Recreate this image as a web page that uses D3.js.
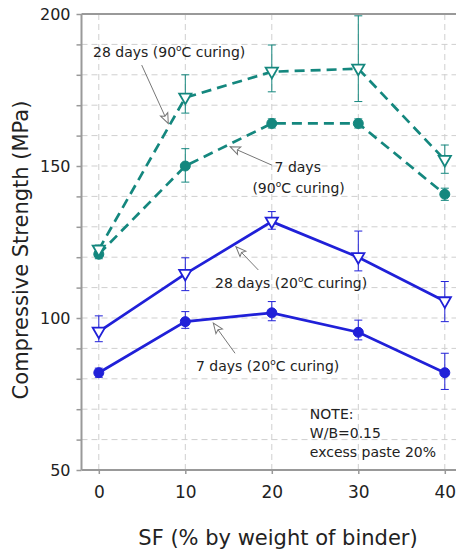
<!DOCTYPE html>
<html>
<head>
<meta charset="utf-8">
<script src="https://cdn.jsdelivr.net/npm/d3@7"></script>
<style>
  html, body { margin: 0; padding: 0; background: #fff; }
  svg { display: block; font-family: "DejaVu Sans", sans-serif; }
</style>
</head>
<body>
<div id="chart"></div>
<script>
// ---- data ----
const sf = [0, 10, 20, 30, 40];
const d28_90 = [122.5, 172.5, 181, 182, 152];
const d28_90_up = [1.5, 7.5, 8.8, 17.4, 4.9];
const d28_90_dn = [1.5, 5.1, 6.6, 10.8, 4.4];
const d7_90 = [121, 150, 164, 164, 140.7];
const d7_90_up = [1.5, 5.7, 1.5, 1.5, 2];
const d7_90_dn = [1.5, 5.3, 1.5, 1.5, 2];
const d28_20 = [95.5, 114.5, 131.7, 120, 105.5];
const d28_20_up = [5.2, 5.3, 3.3, 8.6, 6.5];
const d28_20_dn = [3.3, 5.5, 2.5, 4.5, 6.7];
const d7_20 = [82, 98.8, 101.7, 95.3, 82];
const d7_20_up = [1.5, 3.3, 3.7, 4, 6.4];
const d7_20_dn = [1.5, 2.2, 2.6, 2.5, 5.5];
const yTickLabels = [50, 100, 150, 200];
const yMinorTicks = d3.range(50, 201, 10);
const xTicks = [0, 10, 20, 30, 40];

const W = 456, H = 555;
const svg = d3.select("#chart").append("svg").attr("width", W).attr("height", H);

const x = d3.scaleLinear().domain([-2, 42]).range([81.5, 462.1]);
const y = d3.scaleLinear().domain([50, 200]).range([470, 14]);

const teal = "#14877e";
const blue = "#2020d8";

// grid
const grid = svg.append("g");
grid.selectAll("line.h").data(yMinorTicks.filter(v => v > 50 && v < 200)).join("line")
  .attr("x1", x(-2)).attr("x2", x(42)).attr("y1", d => y(d)).attr("y2", d => y(d))
  .attr("stroke", "#cfcfcf").attr("stroke-width", 1).attr("stroke-dasharray", "6,4");
grid.selectAll("line.v").data(xTicks).join("line")
  .attr("x1", d => x(d)).attr("x2", d => x(d)).attr("y1", y(50)).attr("y2", y(200))
  .attr("stroke", "#cfcfcf").attr("stroke-width", 1).attr("stroke-dasharray", "6,4");

// frame
svg.append("line").attr("x1", x(-2)).attr("x2", x(42)).attr("y1", y(200)).attr("y2", y(200))
  .attr("stroke", "#999").attr("stroke-width", 2);
svg.append("line").attr("x1", x(-2)).attr("x2", x(42)).attr("y1", y(50)).attr("y2", y(50))
  .attr("stroke", "#999").attr("stroke-width", 2);
svg.append("line").attr("x1", x(-2)).attr("x2", x(-2)).attr("y1", y(50)).attr("y2", y(200))
  .attr("stroke", "#999").attr("stroke-width", 2);

// y axis ticks
const yAxis = d3.axisLeft(y).tickValues(yMinorTicks).tickSize(5).tickPadding(6)
  .tickFormat(d => yTickLabels.includes(d) ? d : "");
const gy = svg.append("g").attr("transform", `translate(${x(-2)},0)`).call(yAxis);
gy.select(".domain").remove();
gy.selectAll(".tick line").attr("stroke", "#999").attr("stroke-width", 1.5);
gy.selectAll(".tick text").attr("font-size", 16).attr("fill", "#222")
  .attr("font-family", "DejaVu Sans, sans-serif");

// x axis
const xAxis = d3.axisBottom(x).tickValues(xTicks).tickSize(4).tickPadding(12);
const gx = svg.append("g").attr("transform", `translate(0,${y(50)})`).call(xAxis);
gx.select(".domain").remove();
gx.selectAll(".tick line").attr("stroke", "#999").attr("stroke-width", 1.5);
gx.selectAll(".tick text").attr("font-size", 17).attr("fill", "#222")
  .attr("font-family", "DejaVu Sans, sans-serif");

// axis titles
svg.append("text").attr("transform", `translate(28,${(y(50)+y(200))/2 + 8}) rotate(-90)`)
  .attr("text-anchor", "middle").attr("font-size", 21).attr("fill", "#222")
  .text("Compressive Strength (MPa)");
svg.append("text").attr("x", 278).attr("y", 545)
  .attr("text-anchor", "middle").attr("font-size", 21).attr("fill", "#222")
  .text("SF (% by weight of binder)");

// series
function drawSeries(vals, ups, dns, color, dashed, marker) {
  const pts = sf.map((s, i) => ({ s, v: vals[i], hi: vals[i] + ups[i], lo: vals[i] - dns[i] }));
  const g = svg.append("g");
  g.selectAll("line.eb").data(pts).join("line")
    .attr("x1", d => x(d.s)).attr("x2", d => x(d.s))
    .attr("y1", d => y(d.hi)).attr("y2", d => y(d.lo))
    .attr("stroke", color).attr("stroke-width", 1);
  g.selectAll("line.capt").data(pts).join("line")
    .attr("x1", d => x(d.s) - 4).attr("x2", d => x(d.s) + 4)
    .attr("y1", d => y(d.hi)).attr("y2", d => y(d.hi))
    .attr("stroke", color).attr("stroke-width", 1);
  g.selectAll("line.capb").data(pts).join("line")
    .attr("x1", d => x(d.s) - 4).attr("x2", d => x(d.s) + 4)
    .attr("y1", d => y(d.lo)).attr("y2", d => y(d.lo))
    .attr("stroke", color).attr("stroke-width", 1);
  const line = d3.line().x(d => x(d.s)).y(d => y(d.v));
  g.append("path").datum(pts).attr("d", line)
    .attr("fill", "none").attr("stroke", color).attr("stroke-width", 2.7)
    .attr("stroke-dasharray", dashed ? "10,6" : null);
  if (marker === "circle") {
    g.selectAll("circle").data(pts).join("circle")
      .attr("cx", d => x(d.s)).attr("cy", d => y(d.v)).attr("r", 5)
      .attr("fill", color).attr("stroke", color);
  } else {
    const tri = d3.symbol().type(d3.symbolTriangle).size(65);
    g.selectAll("path.m").data(pts).join("path")
      .attr("transform", d => `translate(${x(d.s)},${y(d.v) - 0.5}) rotate(180)`)
      .attr("d", tri).attr("fill", "#fff").attr("stroke", color).attr("stroke-width", 1.8);
  }
}
drawSeries(d7_90, d7_90_up, d7_90_dn, teal, true, "circle");
drawSeries(d28_90, d28_90_up, d28_90_dn, teal, true, "triangle");
drawSeries(d7_20, d7_20_up, d7_20_dn, blue, false, "circle");
drawSeries(d28_20, d28_20_up, d28_20_dn, blue, false, "triangle");

// arrow marker
const defs = svg.append("defs");
defs.append("marker").attr("id", "arr").attr("viewBox", "-12 -6 14 12")
  .attr("refX", 0).attr("refY", 0).attr("markerWidth", 14).attr("markerHeight", 12)
  .attr("markerUnits", "userSpaceOnUse").attr("orient", "auto")
  .append("path").attr("d", "M0,0 L-10,-4 L-8,0 L-10,4 Z")
  .attr("fill", "#fff").attr("stroke", "#777").attr("stroke-width", 1);

// annotations (data coordinates)
const arrows = [
  { x1: 4.96, y1: 183.2, x2: 8.03, y2: 164.0 },
  { x1: 19.99, y1: 150.3, x2: 15.17, y2: 156.35 },
  { x1: 18.44, y1: 115.8, x2: 15.86, y2: 123.45 },
  { x1: 15.75, y1: 88.4, x2: 13.24, y2: 98.3 }
];
svg.append("g").selectAll("line").data(arrows).join("line")
  .attr("x1", d => x(d.x1)).attr("y1", d => y(d.y1))
  .attr("x2", d => x(d.x2)).attr("y2", d => y(d.y2))
  .attr("stroke", "#777").attr("stroke-width", 1).attr("marker-end", "url(#arr)");

function degText(xv, yv, before, after, anchor) {
  const t = svg.append("text").attr("x", x(xv)).attr("y", y(yv))
    .attr("font-size", 14).attr("fill", "#222").attr("text-anchor", anchor || "start");
  t.append("tspan").text(before);
  t.append("tspan").attr("font-size", 9).attr("dy", -6).text("o");
  t.append("tspan").attr("dy", 6).text(after);
  return t;
}
degText(-0.67, 185.9, "28 days (90", "C curing)");
svg.append("text").attr("x", x(23.0)).attr("y", y(148)).attr("text-anchor", "middle")
  .attr("font-size", 14).attr("fill", "#222").text("7 days");
degText(23.1, 141.1, "(90", "C curing)", "middle");
degText(13.43, 109.9, "28 days (20", "C curing)");
degText(11.24, 82.6, "7 days (20", "C curing)");

const noteLines = ["NOTE:", "W/B=0.15", "excess paste 20%"];
const noteY = [66.8, 60.5, 54.3];
svg.append("g").selectAll("text").data(noteLines).join("text")
  .attr("x", x(24.4)).attr("y", (d, i) => y(noteY[i]))
  .attr("font-size", 14).attr("fill", "#222").text(d => d);
</script>
</body>
</html>
